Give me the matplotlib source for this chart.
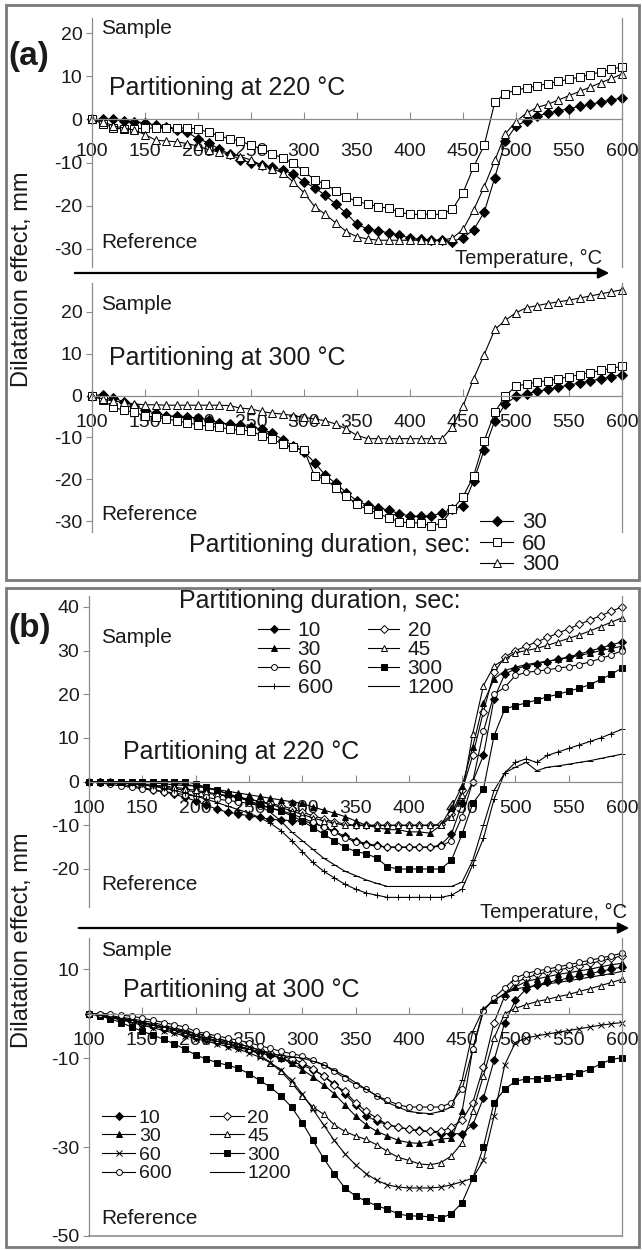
import matplotlib
matplotlib.use("Agg")
import matplotlib.pyplot as plt
from matplotlib.patches import FancyArrowPatch, Rectangle

plt.rcParams["font.family"] = ["Liberation Sans", "DejaVu Sans"]
plt.rcParams["axes.unicode_minus"] = False

W, H = 642, 1250
TXT = "#1a1a1a"
GRID = "#8c8c8c"

# temperature grid, deg C (one reading every 10 deg)
TEMP = list(range(100, 601, 10))
XTICKS = [100, 150, 200, 250, 300, 350, 400, 450, 500, 550, 600]

# ---- panel (a), partitioning at 220 C : durations 30, 60, 300 s
A220_30 = [0, 0, 0, -0.3, -0.5, -0.8, -1.3, -1.8, -2.4, -3.0,
           -4.5, -5.4, -6.9, -8.0, -9.4, -10.0, -10.5, -11.0, -11.8, -12.6,
           -14.5, -15.8, -17.6, -19.6, -21.8, -24.3, -25.4, -25.8, -26.3, -26.8,
           -27.5, -27.8, -28.0, -28.0, -28.3, -27.4, -25.6, -21.5, -13.5, -5.0,
           -1.5, -0.3, 0.8, 1.4, 2.0, 2.5, 3.0, 3.5, 4.0, 4.5,
           5.0]
A220_60 = [0, -1.0, -1.9, -2.3, -2.2, -2.0, -2.0, -2.0, -2.0, -2.0,
           -2.2, -3.0, -3.8, -4.5, -5.0, -6.0, -6.8, -7.9, -9.0, -10.2,
           -12.0, -14.0, -15.0, -16.5, -18.0, -19.0, -19.6, -20.2, -20.6, -21.5,
           -22.0, -22.0, -22.0, -22.0, -20.8, -17.0, -11.0, -6.0, 4.0, 6.0,
           6.8, 7.3, 7.8, 8.3, 8.8, 9.3, 9.8, 10.4, 11.0, 11.6,
           12.2]
A220_300 = [0, -0.5, -1.5, -2.0, -2.5, -3.5, -4.8, -5.0, -5.2, -5.6,
            -6.2, -7.0, -7.6, -8.0, -8.6, -9.4, -10.6, -11.4, -12.4, -14.5,
            -17.0, -20.2, -22.0, -24.0, -26.0, -27.2, -27.7, -28.0, -28.0, -28.0,
            -28.0, -28.0, -28.0, -28.0, -27.5, -25.5, -21.0, -15.6, -9.5, -3.3,
            -0.5, 1.5, 2.8, 3.5, 4.5, 5.5, 6.5, 7.5, 8.5, 9.5,
            10.5]

# ---- panel (a), partitioning at 300 C
A300_30 = [0, 0.2, -0.5, -1.5, -2.5, -3.5, -4.2, -4.8, -5.0, -5.2,
           -5.3, -5.8, -6.5, -6.8, -7.0, -7.5, -8.0, -9.0, -10.5, -12.0,
           -13.5, -16.0, -19.0, -21.0, -23.2, -25.2, -26.2, -26.8, -27.4, -28.2,
           -28.8, -28.8, -28.8, -28.0, -27.2, -26.4, -20.4, -13.0, -6.0, -2.0,
           -0.2, 0.4, 1.0, 1.5, 2.0, 2.5, 3.0, 3.5, 4.0, 4.5,
           5.0]
A300_60 = [0, -1.0, -2.8, -3.5, -4.0, -4.8, -5.2, -5.6, -6.0, -6.5,
           -7.0, -7.3, -7.6, -8.0, -8.3, -8.4, -9.6, -10.4, -11.6, -12.4,
           -13.0, -19.2, -20.0, -22.0, -24.0, -26.0, -27.2, -28.2, -29.2, -30.2,
           -30.4, -30.4, -31.2, -30.4, -27.2, -24.2, -19.2, -10.8, -4.0, 0.0,
           2.2, 2.8, 3.2, 3.6, 4.0, 4.5, 5.0, 5.5, 6.0, 6.5,
           7.0]
A300_300 = [0, -0.8, -1.3, -1.6, -2.0, -2.2, -2.2, -2.3, -2.3, -2.3,
            -2.3, -2.3, -2.3, -2.4, -3.0, -3.2, -3.8, -4.2, -4.4, -4.8,
            -5.2, -5.6, -6.0, -6.8, -8.0, -9.5, -10.3, -10.3, -10.3, -10.3,
            -10.3, -10.3, -10.3, -10.3, -7.5, -2.5, 4.0, 9.8, 15.8, 18.0,
            19.8, 21.0, 21.5, 22.0, 22.4, 22.8, 23.3, 23.8, 24.3, 24.8,
            25.3]

# ---- panel (b), partitioning at 220 C : durations 10 ... 1200 s
B220_10 = [0, 0, -0.3, -0.6, -1.0, -1.4, -1.8, -2.3, -2.9, -3.6,
           -4.4, -5.4, -6.3, -7.0, -7.4, -7.8, -8.2, -8.6, -8.8, -8.9,
           -9.0, -9.5, -10.3, -11.3, -12.5, -13.5, -14.2, -14.6, -15.0, -15.0,
           -15.0, -15.0, -15.0, -14.5, -12.0, -5.0, 0.0, 6.0, 19.0, 24.6,
           25.8, 26.5, 27.0, 27.5, 28.0, 28.6, 29.2, 29.9, 30.6, 31.3,
           32.0]
B220_20 = [0, 0, 0, -0.3, -0.5, -0.8, -1.0, -1.3, -1.6, -2.0,
           -2.3, -2.6, -3.0, -3.3, -3.6, -4.0, -4.5, -5.0, -5.5, -6.2,
           -7.0, -7.8, -8.5, -9.2, -9.7, -10.0, -10.0, -10.0, -10.0, -10.0,
           -10.0, -10.0, -10.0, -9.8, -7.5, -2.0, 6.0, 16.0, 25.0, 28.5,
           30.0, 31.0, 32.0, 33.0, 34.0, 35.0, 36.0, 37.0, 38.0, 39.0,
           40.0]
B220_30 = [0, 0, 0, 0, 0, -0.2, -0.3, -0.5, -0.7, -0.9,
           -1.0, -1.4, -1.8, -2.2, -2.6, -3.0, -3.4, -3.8, -4.2, -4.6,
           -5.0, -5.8, -6.5, -7.2, -8.0, -9.0, -10.0, -10.5, -11.0, -11.0,
           -11.5, -11.5, -11.8, -10.0, -6.0, -1.0, 8.0, 18.0, 23.5, 25.4,
           26.2, 26.8, 27.2, 27.6, 28.0, 28.4, 28.9, 29.4, 30.0, 30.5,
           31.0]
B220_45 = [0, 0, 0, -0.2, -0.4, -0.6, -0.8, -1.0, -1.3, -1.6,
           -2.0, -2.4, -2.8, -3.2, -3.6, -4.0, -4.6, -5.2, -5.9, -6.7,
           -7.5, -8.3, -9.0, -9.5, -10.0, -10.0, -10.0, -10.0, -10.0, -10.0,
           -10.0, -10.0, -10.0, -10.0, -8.0, -3.0, 11.0, 22.0, 26.5, 28.0,
           29.5, 30.0, 30.5, 31.2, 32.0, 32.8, 33.6, 34.5, 35.5, 36.5,
           37.5]
B220_60 = [0, -0.3, -0.6, -1.0, -1.3, -1.6, -2.0, -2.3, -2.6, -3.0,
           -3.3, -3.6, -4.0, -4.3, -4.6, -5.0, -5.5, -6.0, -6.6, -7.4,
           -8.3, -9.3, -10.4, -11.6, -12.8, -13.8, -14.4, -14.8, -15.0, -15.0,
           -15.0, -15.0, -15.0, -14.8, -13.5, -8.0, 0.0, 11.5, 20.0, 21.6,
           24.3, 25.0, 25.3, 25.6, 26.0, 26.3, 26.8, 27.4, 28.2, 29.0,
           30.0]
B220_300 = [0, 0, 0, 0, 0, 0, 0, 0, 0, 0,
            -0.5, -1.3, -2.0, -2.8, -3.6, -4.4, -5.2, -6.0, -6.8, -7.8,
            -9.0, -10.5, -12.0, -13.5, -15.0, -16.0, -16.5, -17.5, -19.5, -20.0,
            -20.0, -20.0, -20.0, -20.0, -18.0, -12.0, -5.0, -1.7, 10.5, 16.6,
            17.4, 18.0, 18.7, 19.4, 20.0, 20.7, 21.4, 22.2, 23.4, 24.6,
            26.0]
B220_600 = [0, 0, 0, 0, -0.3, -0.6, -1.0, -1.5, -2.0, -2.6,
            -3.3, -4.0, -4.8, -5.6, -6.4, -7.2, -8.2, -9.5, -11.2, -13.5,
            -16.0, -18.5, -20.5, -22.0, -23.5, -24.6, -25.5, -26.0, -26.5, -26.5,
            -26.5, -26.5, -26.5, -26.5, -26.0, -24.6, -19.0, -13.0, -4.0, 2.0,
            4.4, 5.2, 4.4, 6.0, 6.8, 7.6, 8.4, 9.2, 10.0, 11.0,
            12.0]
B220_1200 = [0, 0, 0, 0, 0, 0, 0, 0, -0.3, -0.6,
             -1.0, -1.5, -2.0, -2.7, -3.5, -4.5, -5.5, -7.0, -9.0, -11.5,
             -13.5, -15.5, -17.5, -19.0, -20.5, -21.5, -22.5, -23.3, -24.0, -24.0,
             -24.0, -24.0, -24.0, -24.0, -24.0, -23.0, -18.0, -10.0, -2.0, 2.0,
             3.3, 4.4, 2.5, 3.3, 3.6, 4.0, 4.4, 4.8, 5.3, 5.8,
             6.3]

# ---- panel (b), partitioning at 300 C
B300_10 = [0, -0.3, -0.8, -1.3, -1.8, -2.3, -2.8, -3.4, -4.0, -4.6,
           -5.2, -5.8, -6.4, -7.0, -7.6, -8.2, -8.8, -9.4, -10.0, -10.8,
           -11.6, -12.6, -14.0, -15.8, -18.0, -20.5, -23.0, -24.2, -25.0, -25.5,
           -26.0, -26.2, -26.5, -27.0, -27.0, -27.0, -25.0, -19.0, -10.5, -2.0,
           3.0, 5.5, 6.5, 7.0, 7.5, 8.0, 8.5, 9.0, 9.5, 10.0,
           10.5]
B300_20 = [0, -0.3, -0.7, -1.1, -1.5, -2.0, -2.5, -3.0, -3.5, -4.0,
           -4.5, -5.0, -5.6, -6.2, -6.8, -7.5, -8.2, -8.8, -9.5, -10.2,
           -11.0, -12.4, -14.0, -16.0, -17.5, -20.0, -22.0, -23.5, -25.0, -25.5,
           -26.0, -26.5, -26.5, -26.5, -25.5, -24.0, -20.0, -12.0, -2.0, 4.0,
           7.0, 8.0, 8.8, 9.3, 9.8, 10.3, 10.8, 11.3, 11.8, 12.4,
           13.0]
B300_30 = [0, -0.2, -0.5, -0.8, -1.2, -1.6, -2.0, -2.6, -3.2, -3.8,
           -4.4, -5.0, -5.6, -6.2, -6.8, -7.4, -8.2, -9.0, -10.0, -11.2,
           -12.6, -14.2, -16.0, -18.0, -20.5, -23.0, -25.0, -26.5, -27.5, -28.5,
           -29.0, -29.2, -28.8, -28.2, -28.0, -22.0, -8.0, 1.0, 3.0, 4.5,
           6.0, 7.2, 7.8, 8.3, 8.8, 9.2, 9.6, 10.0, 10.5, 11.0,
           11.3]
B300_45 = [0, -0.4, -0.8, -1.2, -1.6, -2.0, -2.5, -3.0, -3.6, -4.3,
           -5.0, -5.5, -6.0, -6.5, -7.2, -8.0, -9.2, -11.0, -13.0, -15.5,
           -18.5, -21.0, -22.6, -25.0, -26.5, -27.5, -28.3, -29.5, -31.0, -32.3,
           -33.0, -33.8, -34.0, -33.5, -32.0, -29.0, -22.0, -14.0, -5.5, 0.0,
           1.2, 2.0, 2.7, 3.2, 3.8, 4.3, 5.0, 5.6, 6.3, 7.0,
           7.7]
B300_60 = [0, -0.4, -0.9, -1.4, -2.0, -2.6, -3.2, -3.8, -4.4, -5.0,
           -5.6, -6.2, -6.8, -7.4, -8.0, -8.8, -9.8, -11.0, -12.6, -15.0,
           -18.0, -21.5, -25.0, -28.5, -31.5, -34.0, -36.0, -37.5, -38.5, -39.0,
           -39.2, -39.2, -39.2, -39.0, -38.5, -37.8, -37.0, -33.0, -23.0, -11.5,
           -6.5, -5.5, -5.0, -4.6, -4.2, -3.8, -3.4, -3.0, -2.6, -2.3,
           -2.0]
B300_300 = [0, -0.5, -1.2, -2.0, -3.0, -4.0, -4.8, -5.8, -6.8, -8.0,
            -9.3, -10.2, -11.0, -11.6, -12.3, -13.5, -15.0, -16.5, -18.5, -21.0,
            -24.5, -28.5, -32.5, -36.0, -39.2, -41.0, -42.2, -43.2, -44.0, -45.0,
            -45.5, -45.5, -45.7, -46.0, -45.0, -42.5, -37.0, -30.0, -20.0, -17.0,
            -15.2, -14.7, -14.6, -14.5, -14.3, -14.0, -13.4, -12.5, -11.3, -10.3,
            -9.9]
B300_600 = [0, 0, 0, -0.3, -0.6, -1.0, -1.5, -2.0, -2.5, -3.0,
            -4.0, -4.5, -5.0, -5.5, -6.0, -6.5, -7.2, -7.8, -8.5, -9.0,
            -9.5, -10.5, -11.5, -13.0, -14.5, -16.0, -17.0, -18.5, -19.5, -20.5,
            -21.0, -21.0, -21.0, -21.0, -20.0, -17.0, -8.0, 0.5, 3.6, 5.8,
            8.0, 9.0, 9.6, 10.0, 10.5, 11.0, 11.5, 12.0, 12.5, 13.0,
            13.6]
B300_1200 = [0, -0.3, -0.7, -1.1, -1.5, -2.0, -2.5, -3.0, -3.6, -4.3,
             -5.0, -5.6, -6.2, -6.8, -7.4, -8.0, -8.5, -9.0, -9.4, -9.7,
             -10.0, -10.7, -11.5, -12.7, -14.0, -15.5, -17.0, -18.5, -20.0, -21.0,
             -22.0, -22.3, -22.5, -22.0, -21.0, -15.0, -4.0, 1.0, 3.0, 4.5,
             5.5, 6.0, 6.3, 6.7, 7.0, 7.4, 7.8, 8.2, 8.6, 9.0,
             9.5]

# marker styles: (marker, face colour, size)
STY = {
    "d_full": ("D", "black", 4.0),
    "d_open": ("D", "white", 4.0),
    "t_full": ("^", "black", 4.5),
    "t_open": ("^", "white", 4.5),
    "s_full": ("s", "black", 4.5),
    "s_open": ("s", "white", 4.5),
    "c_open": ("o", "white", 4.2),
    "plus": ("+", "black", 5.0),
    "cross": ("x", "black", 4.5),
    "dash": ("_", "black", 4.0),
}


def fx(x):
    return x / W


def fy(y):
    return 1 - y / H


def make_axes(fig, left, right, top, bottom):
    return fig.add_axes([fx(left), fy(bottom), (right - left) / W, (bottom - top) / H])


def style(ax, ylim, yticks, xpad):
    ax.set_xlim(100, 600)
    ax.set_ylim(*ylim)
    ax.patch.set_alpha(0)
    ax.spines["top"].set_visible(False)
    ax.spines["bottom"].set_position(("data", 0))
    for s in ("bottom", "left", "right"):
        ax.spines[s].set_color(GRID)
        ax.spines[s].set_linewidth(0.9)
    ax.set_xticks(XTICKS)
    ax.set_yticks(yticks)
    ax.tick_params(axis="x", direction="in", length=5, pad=xpad, color=GRID,
                   labelsize=14, labelcolor=TXT)
    ax.tick_params(axis="y", direction="out", length=4, pad=3, color=GRID,
                   labelsize=14, labelcolor=TXT)


def curve(ax, y, kind, label, scale=1.0):
    m, fc, ms = STY[kind]
    return ax.plot(TEMP, y, color="black", lw=0.8, marker=m, ms=ms * scale,
                   mfc=fc, mec="black", mew=0.7, clip_on=False, label=label)[0]


fig = plt.figure(figsize=(W / 100, H / 100), dpi=100)

# panel frames
for top, bot in ((5, 580), (588, 1247)):
    fig.add_artist(Rectangle((fx(6), fy(bot)), (639 - 6) / W, (bot - top) / H,
                             transform=fig.transFigure, fill=False,
                             edgecolor="#7a7a7a", lw=2))

# ---------------- panel (a)
ax1 = make_axes(fig, 92, 622, 18, 267)
style(ax1, (-34.2, 23.5), [-30, -20, -10, 0, 10, 20], 17)
curve(ax1, A220_30, "d_full", "30", 1.2)
curve(ax1, A220_60, "s_open", "60", 1.2)
curve(ax1, A220_300, "t_open", "300", 1.2)

ax2 = make_axes(fig, 92, 622, 283, 532)
style(ax2, (-32.6, 26.9), [-30, -20, -10, 0, 10, 20], 13)
ha = [curve(ax2, A300_30, "d_full", "30", 1.2),
      curve(ax2, A300_60, "s_open", "60", 1.2),
      curve(ax2, A300_300, "t_open", "300", 1.2)]
ax2.legend(handles=ha, loc="center left", bbox_to_anchor=(fx(480), fy(544)),
           bbox_transform=fig.transFigure, frameon=False, fontsize=16,
           handlelength=1.5, handletextpad=0.4, labelspacing=0.0,
           borderpad=0, borderaxespad=0, labelcolor=TXT)

fig.text(fx(471), fy(545), "Partitioning duration, sec:", ha="right", va="center",
         fontsize=18, color=TXT)
fig.text(fx(8), fy(57), "(a)", ha="left", va="center", fontsize=24,
         fontweight="bold", color=TXT)
fig.text(fx(22), fy(279), "Dilatation effect, mm", rotation=90, ha="center",
         va="center", fontsize=17, color=TXT)
for ytxt, s in ((29, "Sample"), (242, "Reference"), (305, "Sample"), (515, "Reference")):
    fig.text(fx(101), fy(ytxt), s, ha="left", va="center", fontsize=15, color=TXT)
fig.text(fx(109), fy(88), "Partitioning at 220 °C", ha="left", va="center",
         fontsize=18, color=TXT)
fig.text(fx(109), fy(358), "Partitioning at 300 °C", ha="left", va="center",
         fontsize=18, color=TXT)
fig.text(fx(602), fy(258), "Temperature, °C", ha="right", va="center",
         fontsize=14.5, color=TXT)
fig.add_artist(FancyArrowPatch((fx(72), fy(273)), (fx(612), fy(273)),
                               transform=fig.transFigure, arrowstyle="-|>",
                               mutation_scale=16, lw=1.6, color="black"))

# ---------------- panel (b)
ax3 = make_axes(fig, 89, 622, 596, 907)
style(ax3, (-28.7, 42.5), [-20, -10, 0, 10, 20, 30, 40], 13)
hb = {
    "10": curve(ax3, B220_10, "d_full", "10"),
    "20": curve(ax3, B220_20, "d_open", "20"),
    "30": curve(ax3, B220_30, "t_full", "30"),
    "45": curve(ax3, B220_45, "t_open", "45"),
    "60": curve(ax3, B220_60, "c_open", "60"),
    "300": curve(ax3, B220_300, "s_full", "300"),
    "600": curve(ax3, B220_600, "plus", "600"),
    "1200": curve(ax3, B220_1200, "dash", "1200"),
}
order = ["10", "30", "60", "600", "20", "45", "300", "1200"]
ax3.legend(handles=[hb[k] for k in order], ncol=2, loc="upper left",
           bbox_to_anchor=(fx(258), fy(621)), bbox_transform=fig.transFigure,
           frameon=False, fontsize=15, handlelength=1.5, handletextpad=0.4,
           labelspacing=0.0, columnspacing=1.7, borderpad=0, borderaxespad=0,
           labelcolor=TXT)

ax4 = make_axes(fig, 89, 622, 938, 1236)
style(ax4, (-50, 17.0), [-50, -30, -10, 10], 13)
ax4.axhline(-50, color=GRID, lw=1.2, clip_on=False)
hc = {
    "10": curve(ax4, B300_10, "d_full", "10"),
    "20": curve(ax4, B300_20, "d_open", "20"),
    "30": curve(ax4, B300_30, "t_full", "30"),
    "45": curve(ax4, B300_45, "t_open", "45"),
    "60": curve(ax4, B300_60, "cross", "60"),
    "300": curve(ax4, B300_300, "s_full", "300"),
    "600": curve(ax4, B300_600, "c_open", "600"),
    "1200": curve(ax4, B300_1200, "dash", "1200"),
}
ax4.legend(handles=[hc[k] for k in order], ncol=2, loc="upper left",
           bbox_to_anchor=(fx(102), fy(1109)), bbox_transform=fig.transFigure,
           frameon=False, fontsize=14, handlelength=1.7, handletextpad=0.2,
           labelspacing=0.05, columnspacing=2.0, borderpad=0, borderaxespad=0,
           labelcolor=TXT)

fig.text(fx(320), fy(601), "Partitioning duration, sec:", ha="center", va="center",
         fontsize=18, color=TXT)
fig.text(fx(8), fy(628), "(b)", ha="left", va="center", fontsize=24,
         fontweight="bold", color=TXT)
fig.text(fx(22), fy(940), "Dilatation effect, mm", rotation=90, ha="center",
         va="center", fontsize=17, color=TXT)
for ytxt, s in ((637, "Sample"), (885, "Reference"), (950, "Sample"), (1218, "Reference")):
    fig.text(fx(101), fy(ytxt), s, ha="left", va="center", fontsize=15, color=TXT)
fig.text(fx(123), fy(752), "Partitioning at 220 °C", ha="left", va="center",
         fontsize=18, color=TXT)
fig.text(fx(123), fy(990), "Partitioning at 300 °C", ha="left", va="center",
         fontsize=18, color=TXT)
fig.text(fx(627), fy(912), "Temperature, °C", ha="right", va="center",
         fontsize=14.5, color=TXT)
fig.add_artist(FancyArrowPatch((fx(76), fy(928)), (fx(632), fy(928)),
                               transform=fig.transFigure, arrowstyle="-|>",
                               mutation_scale=16, lw=1.6, color="black"))

fig.savefig("out.png", dpi=100)
